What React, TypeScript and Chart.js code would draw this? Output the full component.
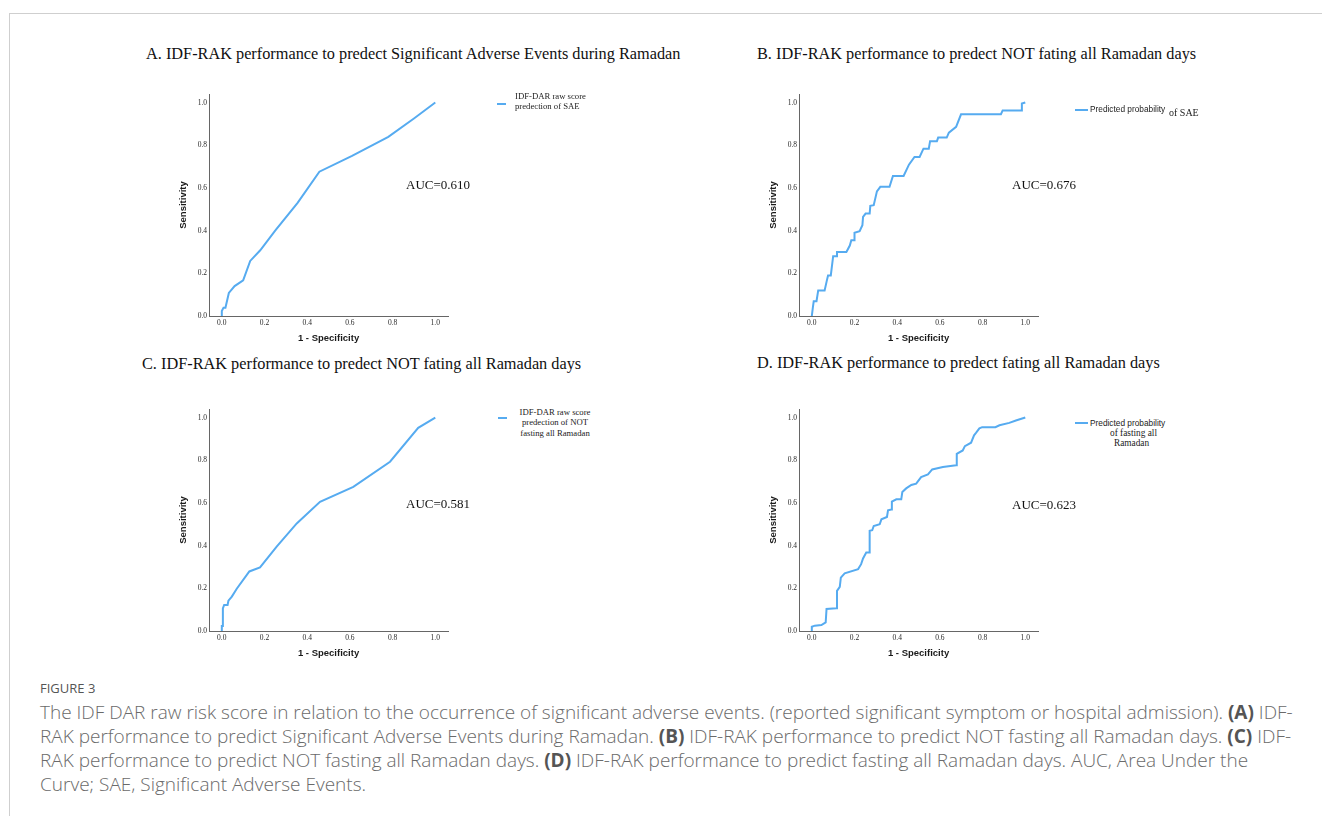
import React, { useEffect, useRef } from "react";
import { Chart, registerables } from "chart.js";

Chart.register(...registerables);

// ---------- data ----------
const xAxisTitle = "1 - Specificity";
const yAxisTitle = "Sensitivity";

// Panel A: IDF-DAR raw score prediction of SAE
const aFpr = [0, 0, 0.008, 0.017, 0.033, 0.06, 0.1, 0.133, 0.18, 0.25, 0.355, 0.457, 0.61, 0.78, 0.9, 1];
const aTpr = [0, 0.023, 0.039, 0.039, 0.108, 0.14, 0.167, 0.258, 0.308, 0.4, 0.53, 0.676, 0.75, 0.839, 0.925, 1];

// Panel B: predicted probability of SAE (NOT fasting all days)
const bFpr = [0, 0.005, 0.009, 0.022, 0.03, 0.06, 0.069, 0.076, 0.089, 0.1, 0.115, 0.118, 0.162, 0.178, 0.185, 0.198, 0.2, 0.224, 0.237, 0.24, 0.252, 0.271, 0.274, 0.29, 0.305, 0.321, 0.364, 0.38, 0.43, 0.455, 0.481, 0.505, 0.523, 0.548, 0.554, 0.586, 0.592, 0.632, 0.642, 0.676, 0.699, 0.886, 0.894, 0.98, 0.984, 1];
const bTpr = [0, 0.04, 0.069, 0.069, 0.12, 0.12, 0.16, 0.19, 0.19, 0.28, 0.28, 0.3, 0.3, 0.33, 0.355, 0.355, 0.39, 0.397, 0.425, 0.464, 0.48, 0.48, 0.516, 0.519, 0.584, 0.605, 0.605, 0.656, 0.656, 0.709, 0.745, 0.745, 0.784, 0.784, 0.819, 0.819, 0.836, 0.836, 0.859, 0.886, 0.945, 0.945, 0.963, 0.963, 0.995, 1];

// Panel C: IDF-DAR raw score prediction of NOT fasting all Ramadan
const cFpr = [0, 0, 0.005, 0.005, 0.011, 0.027, 0.031, 0.047, 0.07, 0.129, 0.179, 0.257, 0.351, 0.46, 0.616, 0.788, 0.92, 1];
const cTpr = [0, 0.023, 0.023, 0.106, 0.122, 0.122, 0.142, 0.161, 0.198, 0.279, 0.298, 0.395, 0.504, 0.605, 0.675, 0.793, 0.952, 1];

// Panel D: predicted probability of fasting all Ramadan
const dFpr = [0, 0, 0.014, 0.045, 0.065, 0.069, 0.115, 0.118, 0.131, 0.136, 0.154, 0.217, 0.231, 0.24, 0.255, 0.268, 0.271, 0.283, 0.29, 0.318, 0.326, 0.352, 0.357, 0.372, 0.375, 0.396, 0.419, 0.424, 0.442, 0.466, 0.489, 0.512, 0.544, 0.564, 0.614, 0.676, 0.679, 0.707, 0.717, 0.746, 0.76, 0.769, 0.785, 0.798, 0.86, 0.879, 0.925, 0.956, 1];
const dTpr = [0, 0.02, 0.025, 0.028, 0.04, 0.103, 0.106, 0.188, 0.207, 0.25, 0.27, 0.29, 0.313, 0.34, 0.368, 0.368, 0.469, 0.472, 0.492, 0.5, 0.523, 0.534, 0.565, 0.569, 0.606, 0.617, 0.617, 0.651, 0.668, 0.684, 0.69, 0.721, 0.734, 0.757, 0.768, 0.777, 0.83, 0.846, 0.866, 0.882, 0.917, 0.928, 0.949, 0.955, 0.955, 0.964, 0.975, 0.986, 1];

const panelTitles = [
  "A. IDF-RAK performance to predect Significant Adverse Events during Ramadan",
  "B. IDF-RAK performance to predect NOT fating all Ramadan days",
  "C. IDF-RAK performance to predect NOT fating all Ramadan days",
  "D. IDF-RAK performance to predect fating all Ramadan days",
];
const aucLabels = ["AUC=0.610", "AUC=0.676", "AUC=0.581", "AUC=0.623"];

// ---------- style ----------
const LINE = "#56abf0";
const AXIS = "#666666";
const SERIF = "'Liberation Serif', 'Times New Roman', serif";
const SANS = "'Liberation Sans', Arial, sans-serif";

const CW = 300;
const CH = 259;

function RocChart({ fpr, tpr, left, top }: { fpr: number[]; tpr: number[]; left: number; top: number }) {
  const ref = useRef<HTMLCanvasElement>(null);
  useEffect(() => {
    const chart = new Chart(ref.current as HTMLCanvasElement, {
      type: "scatter",
      data: {
        datasets: [
          {
            data: fpr.map((x, i) => ({ x, y: tpr[i] })),
            showLine: true,
            borderColor: LINE,
            backgroundColor: LINE,
            borderWidth: 2,
            pointRadius: 0,
            pointHoverRadius: 0,
            tension: 0,
            fill: false,
          } as any,
        ],
      },
      options: {
        responsive: false,
        maintainAspectRatio: false,
        animation: false,
        events: [],
        layout: { padding: { top: 9, right: 1.9, bottom: 0, left: 0 } },
        plugins: { legend: { display: false }, tooltip: { enabled: false } },
        scales: {
          x: {
            type: "linear",
            min: -0.06,
            max: 1.06,
            grid: { display: false, drawTicks: false },
            border: { display: true, color: AXIS, width: 1 },
            ticks: {
              stepSize: 0.2,
              includeBounds: false,
              padding: 3,
              autoSkip: false,
              maxRotation: 0,
              color: "#2a2a2a",
              font: { family: SERIF, size: 7.5 },
              callback: (v: any) => Number(v).toFixed(1),
            },
            title: {
              display: true,
              text: xAxisTitle,
              color: "#1a1a1a",
              font: { family: SANS, size: 9.5, weight: "bold" },
              padding: { top: 0, bottom: 0 },
            },
            afterFit: (s: any) => {
              s.height = 28;
            },
          },
          y: {
            type: "linear",
            min: 0,
            max: 1.04,
            grid: { display: false, drawTicks: false },
            border: { display: true, color: AXIS, width: 1 },
            ticks: {
              stepSize: 0.2,
              includeBounds: false,
              padding: 2,
              autoSkip: false,
              color: "#2a2a2a",
              font: { family: SERIF, size: 7.5 },
              callback: (v: any) => Number(v).toFixed(1),
            },
            title: {
              display: true,
              text: yAxisTitle,
              color: "#1a1a1a",
              font: { family: SANS, size: 9.5, weight: "bold" },
              padding: { top: 27.3, bottom: 0 },
            },
            afterFit: (s: any) => {
              s.width = 59;
            },
          },
        },
      } as any,
    });
    return () => chart.destroy();
  }, [fpr, tpr]);
  return (
    <canvas
      ref={ref}
      width={CW}
      height={CH}
      style={{ position: "absolute", left, top, width: CW, height: CH }}
    />
  );
}

function Txt({
  x,
  cy,
  size,
  family,
  children,
  lh,
  color = "#111",
  weight = 400,
  align = "left",
  width,
}: any) {
  const lineH = lh ?? size * 1.2;
  return (
    <div
      style={{
        position: "absolute",
        left: x,
        top: cy - lineH / 2,
        fontSize: size,
        lineHeight: `${lineH}px`,
        fontFamily: family,
        color,
        fontWeight: weight,
        whiteSpace: "nowrap",
        textAlign: align,
        width,
      }}
    >
      {children}
    </div>
  );
}

function LegendLine({ x1, x2, y }: { x1: number; x2: number; y: number }) {
  return (
    <div
      style={{ position: "absolute", left: x1, top: y - 1, width: x2 - x1, height: 2, background: LINE }}
    />
  );
}

const CAP = "'Open Sans', 'Noto Sans', sans-serif";
const TSZ = 16.3;
const CSZ = 19;

export default function App() {
  // axis origins of the four panels (pixel of the axis corner)
  const origins = [
    [209, 316],
    [799, 316],
    [209, 631],
    [799, 631],
  ];
  const series = [
    [aFpr, aTpr],
    [bFpr, bTpr],
    [cFpr, cTpr],
    [dFpr, dTpr],
  ];
  const bold = { color: "#555", fontWeight: 700 };
  return (
    <div style={{ position: "absolute", left: 0, top: 0, width: 1322, height: 816, background: "#fff", overflow: "hidden" }}>
      {/* frame */}
      <div
        style={{
          position: "absolute",
          left: 9,
          top: 13,
          width: 1320,
          height: 820,
          borderTop: "1px solid #cfcfcf",
          borderLeft: "1px solid #cfcfcf",
        }}
      />

      {/* panel titles */}
      <Txt x={146} cy={54} size={TSZ} family={SERIF}>{panelTitles[0]}</Txt>
      <Txt x={757} cy={54} size={TSZ} family={SERIF}>{panelTitles[1]}</Txt>
      <Txt x={142} cy={364} size={TSZ} family={SERIF}>{panelTitles[2]}</Txt>
      <Txt x={757} cy={363} size={TSZ} family={SERIF}>{panelTitles[3]}</Txt>

      {series.map((s, i) => (
        <RocChart key={i} fpr={s[0]} tpr={s[1]} left={origins[i][0] - 59} top={origins[i][1] - 231} />
      ))}

      {/* AUC labels */}
      <Txt x={406} cy={185} size={13} family={SERIF}>{aucLabels[0]}</Txt>
      <Txt x={1012} cy={185} size={13} family={SERIF}>{aucLabels[1]}</Txt>
      <Txt x={406} cy={504} size={13} family={SERIF}>{aucLabels[2]}</Txt>
      <Txt x={1012} cy={505} size={13} family={SERIF}>{aucLabels[3]}</Txt>

      {/* legend A */}
      <LegendLine x1={497} x2={506} y={104} />
      <Txt x={515} cy={96} size={8.7} lh={10} family={SERIF} color="#222">IDF-DAR raw score</Txt>
      <Txt x={515} cy={106} size={8.7} lh={10} family={SERIF} color="#222">predection of SAE</Txt>

      {/* legend B */}
      <LegendLine x1={1075} x2={1088} y={110} />
      <Txt x={1090} cy={110} size={8.3} family={SANS} color="#222">Predicted probability</Txt>
      <Txt x={1169} cy={112.5} size={10} family={SERIF} color="#222">of SAE</Txt>

      {/* legend C */}
      <LegendLine x1={498} x2={507} y={418} />
      <Txt x={505} cy={412} size={8.7} lh={10} family={SERIF} color="#222" align="center" width={100}>IDF-DAR raw score</Txt>
      <Txt x={505} cy={422} size={8.7} lh={10} family={SERIF} color="#222" align="center" width={100}>predection of NOT</Txt>
      <Txt x={505} cy={433} size={8.7} lh={10} family={SERIF} color="#222" align="center" width={100}>fasting all Ramadan</Txt>

      {/* legend D */}
      <LegendLine x1={1075} x2={1088} y={423} />
      <Txt x={1090} cy={424} size={8.3} family={SANS} color="#222">Predicted probability</Txt>
      <Txt x={1110} cy={433.5} size={9.3} family={SERIF} color="#222">of fasting all</Txt>
      <Txt x={1114} cy={443.5} size={9.3} family={SERIF} color="#222">Ramadan</Txt>

      {/* caption */}
      <Txt x={40} cy={689} size={13} family={CAP} color="#555" weight={500}>FIGURE 3</Txt>
      <Txt x={40} cy={712} size={CSZ} family={CAP} color="#6a6a6a" weight={300}>
        The IDF DAR raw risk score in relation to the occurrence of significant adverse events. (reported significant symptom or hospital admission). <b style={bold}>(A)</b> IDF-
      </Txt>
      <Txt x={40} cy={736} size={CSZ} family={CAP} color="#6a6a6a" weight={300}>
        RAK performance to predict Significant Adverse Events during Ramadan. <b style={bold}>(B)</b> IDF-RAK performance to predict NOT fasting all Ramadan days. <b style={bold}>(C)</b> IDF-
      </Txt>
      <Txt x={40} cy={760} size={CSZ} family={CAP} color="#6a6a6a" weight={300}>
        RAK performance to predict NOT fasting all Ramadan days. <b style={bold}>(D)</b> IDF-RAK performance to predict fasting all Ramadan days. AUC, Area Under the
      </Txt>
      <Txt x={40} cy={784} size={CSZ} family={CAP} color="#6a6a6a" weight={300}>
        Curve; SAE, Significant Adverse Events.
      </Txt>
    </div>
  );
}
